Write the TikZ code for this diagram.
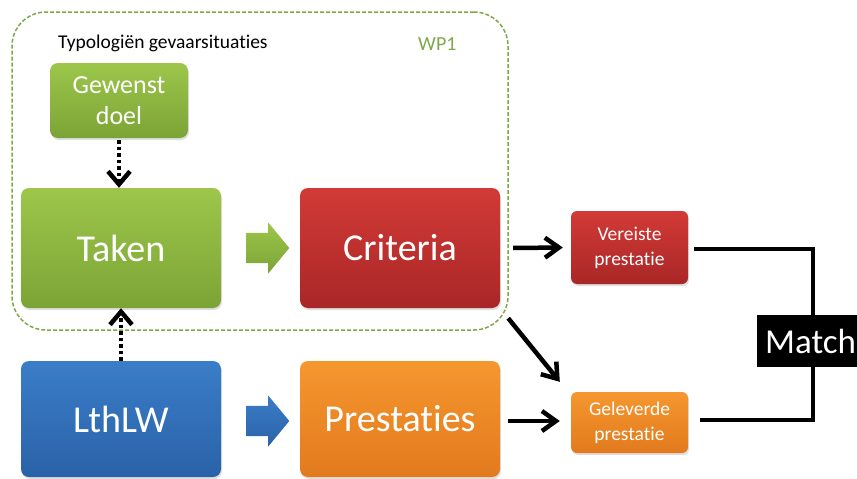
\documentclass[tikz,border=0pt]{standalone}
\usepackage{fontspec}
\setmainfont{Carlito}[Ligatures={NoCommon}]
\usetikzlibrary{arrows.meta,shapes.arrows,shadows,calc}
\definecolor{gA}{HTML}{9DC64B}
\definecolor{gB}{HTML}{7BA436}
\definecolor{rA}{HTML}{D23A36}
\definecolor{rB}{HTML}{A92727}
\definecolor{bA}{HTML}{3A7DC8}
\definecolor{bB}{HTML}{2A62A8}
\definecolor{oA}{HTML}{F5972F}
\definecolor{oB}{HTML}{E27A1D}
\definecolor{wpgreen}{HTML}{80A84A}
\begin{document}
\begin{tikzpicture}[x=1pt,y=-1pt,
  box/.style={rounded corners=8pt, inner sep=0pt, text=white, align=center,
    drop shadow={opacity=0.25, shadow xshift=1pt, shadow yshift=-2pt}},
  greenbox/.style={box, top color=gA, bottom color=gB},
  redbox/.style={box, top color=rA, bottom color=rB},
  bluebox/.style={box, top color=bA, bottom color=bB},
  orangebox/.style={box, top color=oA, bottom color=oB},
  bigtext/.style={font=\fontsize{38}{40}\selectfont},
  midtext/.style={font=\fontsize{26}{31}\selectfont},
  smalltext/.style={font=\fontsize{19.5}{25}\selectfont},
  blockarrow/.style={single arrow, inner xsep=0pt, inner ysep=15pt,
    minimum height=43pt, minimum width=51pt, single arrow head extend=10.5pt,
    single arrow tip angle=101, single arrow head indent=0pt},
  dotarrow/.style={line width=4.5pt, dash pattern=on 3.5pt off 3pt,
    -{Straight Barb[length=13pt,width=22pt,line width=4.5pt]}},
  arr/.style={line width=4.5pt, -{Straight Barb[length=14pt,width=20pt,line width=4.5pt]}},
  matchline/.style={line width=3.5pt}
]
\useasboundingbox (0,0) rectangle (857,479);
\fill[white] (0,0) rectangle (857,479);

% container
\node (wp) [draw=wpgreen, dash pattern=on 4pt off 2pt, line width=1.5pt,
  rounded corners=34pt, minimum width=496pt, minimum height=318pt, inner sep=0pt]
  at (260,171) {};
\node (typ) [anchor=west, inner sep=0pt, font=\fontsize{19.5}{22}\selectfont]
  at (58,43) {Typologiën gevaarsituaties};
\node (wplabel) [anchor=west, inner sep=0pt, text=wpgreen, font=\fontsize{20}{22}\selectfont]
  at (418,44) {WP1};

% boxes
\node (gewenst) [greenbox, midtext, minimum width=138pt, minimum height=75pt] at (119,100.5) {Gewenst\\doel};
\node (taken) [greenbox, bigtext, minimum width=200pt, minimum height=120pt] at (121,248) {Taken};
\node (criteria) [redbox, bigtext, minimum width=200pt, minimum height=120pt] at (400,248) {Criteria};
\node (lthlw) [bluebox, bigtext, minimum width=200pt, minimum height=116pt] at (121,419) {LthLW};
\node (prestaties) [orangebox, bigtext, minimum width=200pt, minimum height=116pt] at (400,419) {Prestaties};
\node (vereiste) [redbox, smalltext, rounded corners=6pt, minimum width=117pt, minimum height=73pt] at (629.5,247.5) {Vereiste\\prestatie};
\node (geleverde) [orangebox, smalltext, rounded corners=6pt, minimum width=117pt, minimum height=61pt] at (629.5,422.5) {Geleverde\\prestatie};

% block arrows
\node (garrow) [blockarrow, top color=gA, bottom color=gB] at (261.5,248) {};
\node (barrow) [blockarrow, top color=bA, bottom color=bB] at (261.5,421) {};

% dotted arrows
\draw[dotarrow] ([yshift=-2pt]gewenst.south) -- ([xshift=-2pt]taken.north);
\draw[dotarrow] (lthlw.north) -- (taken.south);

% solid arrows
\draw[arr] ([xshift=13pt]criteria.east) -- ([xshift=-8pt]vereiste.west);
\draw[arr] ([shift={(8pt,-10pt)}]criteria.south east) -- ([shift={(-11pt,10pt)}]geleverde.north west);
\draw[arr] ([xshift=8pt,yshift=-2pt]prestaties.east) -- ([xshift=-11pt,yshift=-2pt]prestaties.east -| geleverde.west);

% match
\node (match) [fill=black, text=white, anchor=west, inner xsep=8pt, inner ysep=0pt,
  minimum height=52pt, font=\fontsize{35}{38}\selectfont] at (757,341) {Match};
\coordinate (mv) at (813,0);
\draw[matchline] ([xshift=6pt,yshift=-1.5pt]vereiste.east) -| (mv |- match.north);
\draw[matchline] ([xshift=12pt,yshift=2.5pt]geleverde.east) -| (mv |- match.south);
\end{tikzpicture}
\end{document}
